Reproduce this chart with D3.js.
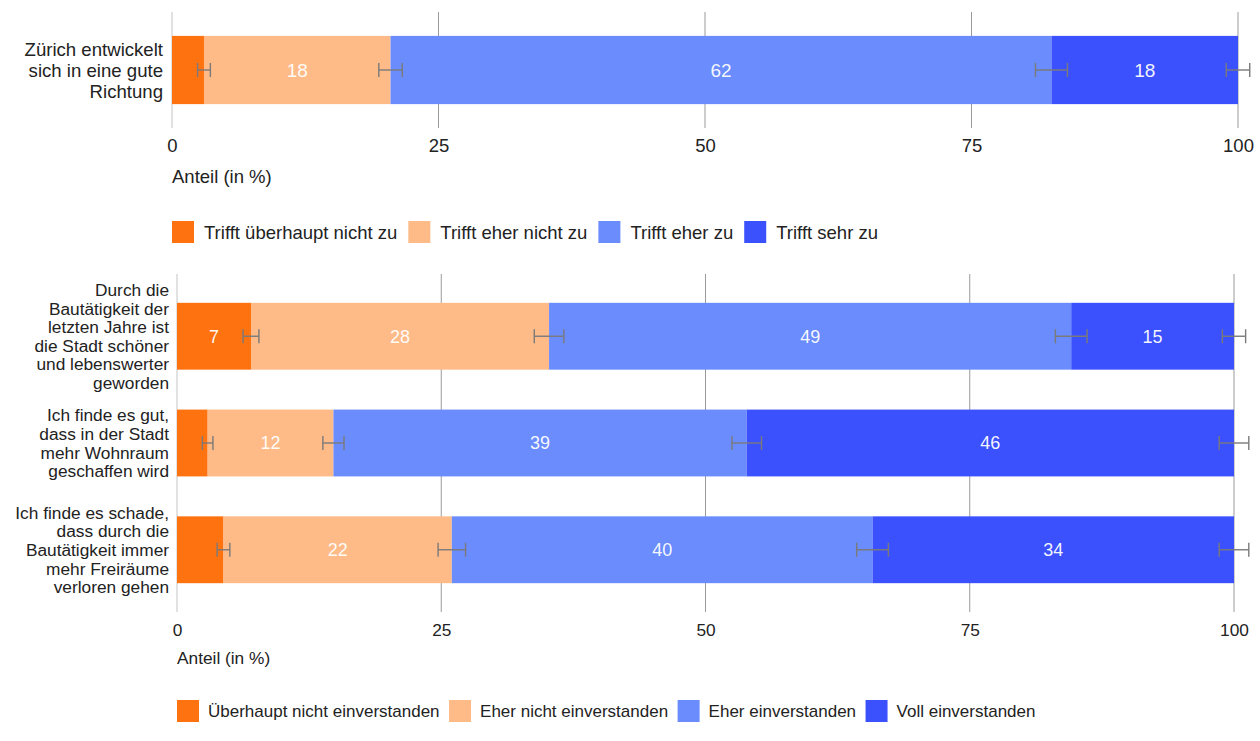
<!DOCTYPE html>
<html><head><meta charset="utf-8">
<script src="https://cdn.jsdelivr.net/npm/d3@7"></script>
<style>
html,body{margin:0;padding:0;background:#fff;}
svg{display:block;font-family:"Liberation Sans",Arial,sans-serif;}
</style></head>
<body>
<svg id="c" width="1260" height="741"></svg>
<script>
// ---- data ----
const topCategories = ["Zürich entwickelt sich in eine gute Richtung"];
const topCategoryLines = [["Zürich entwickelt","sich in eine gute","Richtung"]];
const topSeries = ["Trifft überhaupt nicht zu","Trifft eher nicht zu","Trifft eher zu","Trifft sehr zu"];
const topValues = [[3.0, 17.5, 62.0, 17.5]];
const topErrors = [[0.6, 1.1, 1.5, 1.1]];

const bottomCategories = ["Bautätigkeit schöner", "Wohnraum", "Freiräume"];
const bottomCategoryLines = [
  ["Durch die","Bautätigkeit der","letzten Jahre ist","die Stadt schöner","und lebenswerter","geworden"],
  ["Ich finde es gut,","dass in der Stadt","mehr Wohnraum","geschaffen wird"],
  ["Ich finde es schade,","dass durch die","Bautätigkeit immer","mehr Freiräume","verloren gehen"]
];
const bottomSeries = ["Überhaupt nicht einverstanden","Eher nicht einverstanden","Eher einverstanden","Voll einverstanden"];
const bottomValues = [
  [7.0, 28.2, 49.4, 15.4],
  [2.9, 11.9, 39.1, 46.1],
  [4.4, 21.6, 39.8, 34.2]
];
const bottomErrors = [
  [0.75, 1.4, 1.5, 1.1],
  [0.5, 1.0, 1.4, 1.4],
  [0.6, 1.3, 1.5, 1.4]
];
const tickValues = [0, 25, 50, 75, 100];
const axisTitle = "Anteil (in %)";
const colors = ["#ff7210", "#febb88", "#6a8cfd", "#3c51fe"];

const svg = d3.select("#c");

function drawPanel(cfg) {
  const g = svg.append("g");
  const x = d3.scaleLinear().domain([0, 100]).range([cfg.x0, cfg.x1]);
  const y = d3.scaleBand().domain(cfg.categories).range([cfg.y0, cfg.y1])
    .paddingInner(cfg.pi).paddingOuter(cfg.po);

  // gridlines
  g.append("g").selectAll("line").data(tickValues).join("line")
    .attr("x1", d => x(d)).attr("x2", d => x(d))
    .attr("y1", cfg.y0).attr("y2", cfg.y1)
    .attr("stroke", d => d === 0 ? "#c4c4c4" : "#9a9a9a")
    .attr("stroke-width", 1);

  // stacked data
  const rows = cfg.values.map((vals, i) => {
    let acc = 0;
    return vals.map((v, j) => {
      const s = acc; acc += v;
      return {cat: cfg.categories[i], j, v, s, e: acc, err: cfg.errors[i][j]};
    });
  });
  const segs = rows.flat();

  g.append("g").selectAll("rect").data(segs).join("rect")
    .attr("x", d => x(d.s)).attr("width", d => x(d.e) - x(d.s))
    .attr("y", d => y(d.cat)).attr("height", y.bandwidth())
    .attr("fill", d => colors[d.j]);

  // value labels
  g.append("g").selectAll("text").data(segs.filter(d => Math.round(d.v) >= 5)).join("text")
    .attr("x", d => (x(d.s) + x(d.e)) / 2)
    .attr("y", d => y(d.cat) + y.bandwidth() / 2)
    .attr("dy", "0.36em")
    .attr("text-anchor", "middle")
    .attr("fill", "#ffffff")
    .attr("fill-opacity", 0.95)
    .attr("font-size", cfg.valSize)
    .text(d => Math.round(d.v));

  // error bars
  const eg = g.append("g").attr("stroke", "#7a7a7a").attr("stroke-width", 1.4).attr("fill", "none");
  segs.forEach(d => {
    const cy = y(d.cat) + y.bandwidth() / 2;
    const a = x(d.e - d.err), b = x(d.e + d.err);
    eg.append("line").attr("x1", a).attr("x2", b).attr("y1", cy).attr("y2", cy);
    eg.append("line").attr("x1", a).attr("x2", a).attr("y1", cy - 7).attr("y2", cy + 7);
    eg.append("line").attr("x1", b).attr("x2", b).attr("y1", cy - 7).attr("y2", cy + 7);
  });

  // category labels
  cfg.categories.forEach((c, i) => {
    const lines = cfg.lines[i];
    const cy = y(c) + y.bandwidth() / 2;
    const t = g.append("text")
      .attr("text-anchor", "end")
      .attr("font-size", cfg.catSize)
      .attr("fill", "#222");
    lines.forEach((ln, k) => {
      t.append("tspan")
        .attr("x", cfg.x0 - cfg.labelGap)
        .attr("y", cy + (k - (lines.length - 1) / 2) * cfg.lineH)
        .attr("dy", "0.36em")
        .text(ln);
    });
  });

  // x axis
  const axis = d3.axisBottom(x).tickValues(tickValues).tickSize(0).tickPadding(0);
  const ag = g.append("g").attr("transform", `translate(0,${cfg.tickY})`).call(axis);
  ag.select(".domain").remove();
  ag.selectAll("text").attr("font-size", cfg.fontSize).attr("fill", "#222")
    .attr("font-family", "Liberation Sans, Arial, sans-serif")
    .attr("dy", "0.36em").attr("y", 0);

  g.append("text").attr("x", cfg.x0).attr("y", cfg.titleY).attr("dy", "0.36em")
    .attr("font-size", cfg.fontSize).attr("fill", "#222").text(axisTitle);

  // legend
  const lg = g.append("g");
  let lx = cfg.x0;
  cfg.series.forEach((s, j) => {
    lg.append("rect").attr("x", lx).attr("y", cfg.legendY - 11).attr("width", 22).attr("height", 22)
      .attr("fill", colors[j]);
    const tt = lg.append("text").attr("x", lx + cfg.legendOff).attr("y", cfg.legendY).attr("dy", "0.36em")
      .attr("font-size", cfg.legendSize).attr("fill", "#222").text(s);
    lx = lx + cfg.legendOff + tt.node().getComputedTextLength() + cfg.legendGap;
  });
}

drawPanel({
  categories: topCategories, lines: topCategoryLines, series: topSeries,
  values: topValues, errors: topErrors,
  x0: 172, x1: 1238, y0: 12, y1: 128, pi: 0.4, po: 0.21,
  fontSize: 18.5, catSize: 18.6, valSize: 19, lineH: 21, labelGap: 9,
  tickY: 145, titleY: 176, legendY: 232, legendSize: 18.5, legendOff: 32, legendGap: 11
});

drawPanel({
  categories: bottomCategories, lines: bottomCategoryLines, series: bottomSeries,
  values: bottomValues, errors: bottomErrors,
  x0: 177, x1: 1234, y0: 274, y1: 612, pi: 0.374, po: 0.27,
  fontSize: 17.3, catSize: 17.3, valSize: 18, lineH: 18.6, labelGap: 8,
  tickY: 630, titleY: 658, legendY: 711, legendSize: 17, legendOff: 31, legendGap: 9.5
});
</script>
</body></html>
